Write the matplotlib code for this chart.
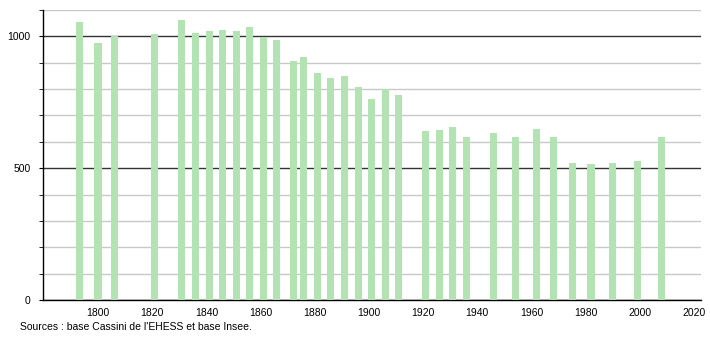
import matplotlib
matplotlib.use("Agg")
import matplotlib.pyplot as plt
from matplotlib.ticker import MultipleLocator

plt.rcParams['font.family'] = ['Liberation Sans', 'DejaVu Sans']

years = [1793, 1800, 1806, 1821, 1831, 1836, 1841, 1846, 1851, 1856, 1861, 1866,
         1872, 1876, 1881, 1886, 1891, 1896, 1901, 1906, 1911, 1921, 1926, 1931,
         1936, 1946, 1954, 1962, 1968, 1975, 1982, 1990, 1999, 2008]
population = [1054, 974, 1000, 1009, 1062, 1013, 1020, 1024, 1020, 1035, 998, 986,
              906, 921, 860, 841, 849, 807, 761, 799, 777, 640, 643, 655,
              620, 632, 620, 647, 620, 518, 514, 521, 529, 617]
x_ticks = [1800, 1820, 1840, 1860, 1880, 1900, 1920, 1940, 1960, 1980, 2000, 2020]
y_ticks = [0, 500, 1000]
source = "Sources : base Cassini de l'EHESS et base Insee."

fig = plt.figure(figsize=(7.1, 3.4), dpi=100)
ax = fig.add_axes([43/710, 40/340, (701-43)/710, (300-10)/340])

ax.bar(years, population, width=2.6, color='#b3e3b3', zorder=3)

ax.set_xlim(1779.7, 2022.6)
ax.set_ylim(0, 1100)
ax.set_xticks(x_ticks)
ax.set_yticks(y_ticks)
ax.yaxis.set_minor_locator(MultipleLocator(100))

ax.grid(axis='y', which='minor', color='#c8c8c8', linewidth=1.0, zorder=0)
ax.grid(axis='y', which='major', color='#333333', linewidth=1.0, zorder=1)

for s in ['top', 'right']:
    ax.spines[s].set_visible(False)
ax.spines['left'].set_color('black')
ax.spines['bottom'].set_color('black')
ax.spines['left'].set_linewidth(1.0)
ax.spines['bottom'].set_linewidth(1.0)

ax.tick_params(axis='x', length=0, labelsize=7.5, pad=6)
ax.tick_params(axis='y', which='both', length=3, direction='out', labelsize=7.5, pad=6)

fig.text(20/710, 1 - 327/340, source, fontsize=7.5, ha='left', va='center')

fig.savefig('out.png', dpi=100)
